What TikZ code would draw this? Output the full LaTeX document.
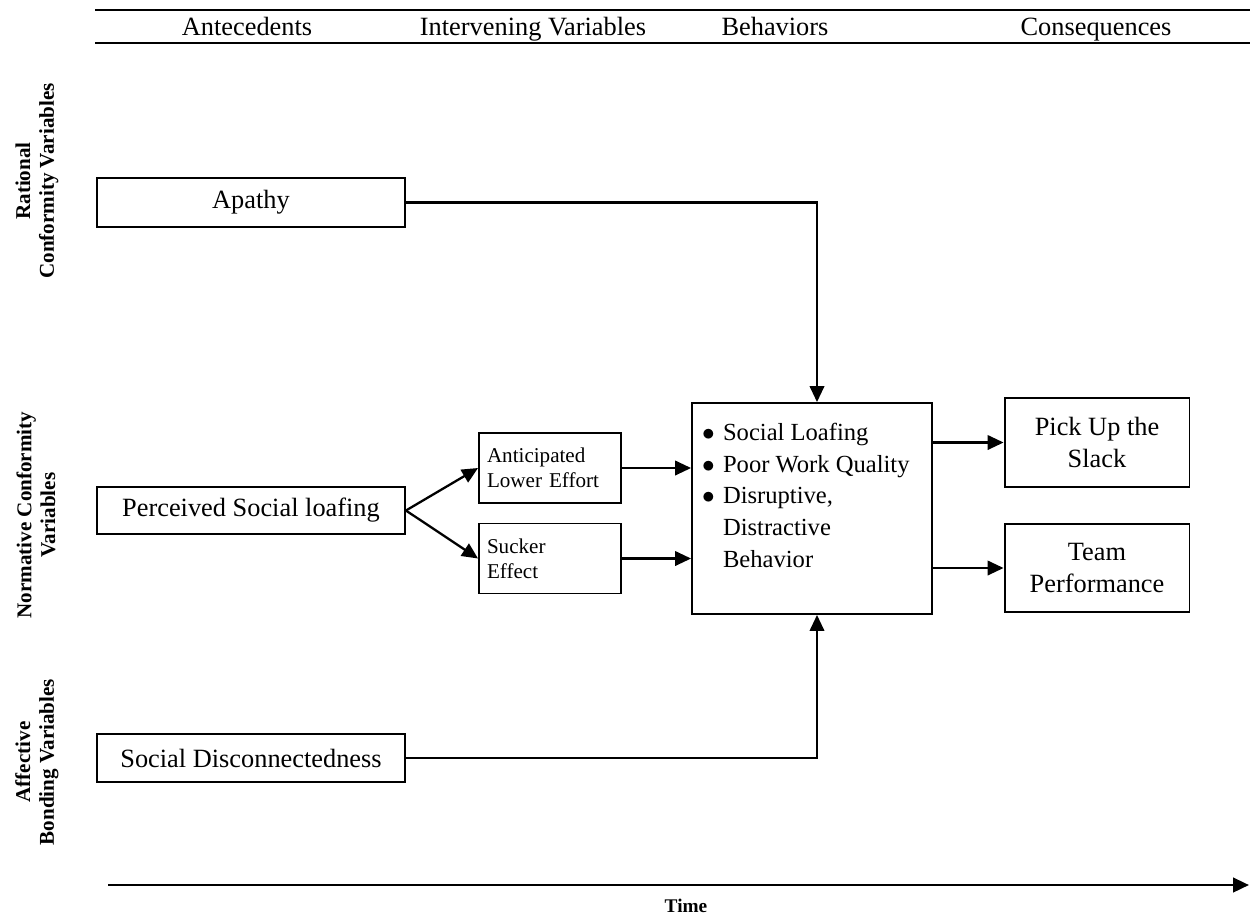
\documentclass[tikz,border=0pt]{standalone}
\usepackage{fontspec}
\setmainfont{Liberation Serif}
\usetikzlibrary{arrows.meta, positioning}
\tikzset{%
	var box/.style={
		draw,
		line width=1.1pt,
		inner sep=0pt,
		font=\fontsize{15}{18}\selectfont
	},
	small box/.style={
		var box,
		align=left,
		text width=2.52cm,
		inner xsep=0.16cm,
		minimum height=1.40cm,
		font=\fontsize{12}{14.2}\selectfont
	},
	side label/.style={
		rotate=90,
		align=center,
		font=\bfseries\fontsize{12}{13.5}\selectfont
	},
	head label/.style={anchor=base, font=\fontsize{15}{18}\selectfont},
	link/.style={-{Triangle[length=0.32cm, width=0.29cm]}, line width=1.3pt},
	rule/.style={line width=1.6pt},
}
\newcommand{\listdot}{\hspace*{-0.06cm}$\bullet$}
\begin{document}
\begin{tikzpicture}[x=0.02cm, y=-0.02cm]
			\useasboundingbox (0,0) rectangle (1250,917);
			
			\draw[rule] (95,10) -- (1250,10);
			\draw[rule] (95,43) -- (1250,43);
			\node[head label] (antec) at (247,35) {Antecedents};
			\node[head label] (interv) at (533,35) {Intervening Variables};
			\node[head label] (behavs) at (775,35) {Behaviors};
			\node[head label] (conseq) at (1096,35) {Consequences};
			
			\node[side label] (rational) at (37,181) {Rational\\Conformity Variables};
			\node[side label] (normative) at (36,515) {Normative Conformity\\Variables};
			\node[side label] (affective) at (37,762) {Affective\\Bonding Variables};
			
			\node[var box, minimum width=6.16cm, minimum height=0.98cm] (apathy) at (251,202.5) {Apathy};
			\node[var box, minimum width=6.16cm, minimum height=0.94cm] (perceived) at (251,510.5) {Perceived Social loafing};
			\node[var box, minimum width=6.16cm, minimum height=0.96cm] (disconn) at (251,758) {Social Disconnectedness};
			
			\node[small box] (anticip) at (550,468) {Anticipated\\Lower Effort};
			\node[small box] (sucker) at (550,558.5) {Sucker\\Effect};
			
			\node[var box, minimum width=4.8cm, minimum height=4.22cm, font=\fontsize{14}{18}\selectfont] (loafing) at (812,508.5) {\parbox[c][3.6cm][t]{4.28cm}{%
				\begin{tabular}[t]{@{}p{0.36cm}@{}l@{}}
					\listdot & Social Loafing\\
					\listdot & Poor Work Quality\\
					\listdot & Disruptive,\\
					 & Distractive\\
					 & Behavior
				\end{tabular}}};
			\coordinate (intop) at ([xshift=0.1cm]loafing.north);
			\coordinate (inbot) at ([xshift=0.1cm]loafing.south);
			
			\node[var box, align=center, minimum width=3.7cm, minimum height=1.78cm] (slack) at (1097,442.5) {Pick Up the\\Slack};
			\node[var box, align=center, minimum width=3.7cm, minimum height=1.76cm] (teamperf) at (1097,568) {Team\\Performance};
			
			\draw[link] (apathy.east) -| (intop);
			\draw[link] (disconn.east) -| (inbot);
			\draw[link] (perceived.east) -- (anticip.west);
			\draw[link] (perceived.east) -- (sucker.west);
			\draw[link] (anticip.east) -- (anticip.east -| loafing.west);
			\draw[link] (sucker.east) -- (sucker.east -| loafing.west);
			\draw[link] (loafing.east |- slack.west) -- (slack.west);
			\draw[link] (loafing.east |- teamperf.west) -- (teamperf.west);
			
			\coordinate (tstart) at (108,885);
			\coordinate (tend) at (1249,885);
			\draw[link, line width=1.6pt] (tstart) -- (tend);
			\node[font=\bfseries\fontsize{11}{13}\selectfont] (time) at (686,906) {Time};
		\end{tikzpicture}
\end{document}
